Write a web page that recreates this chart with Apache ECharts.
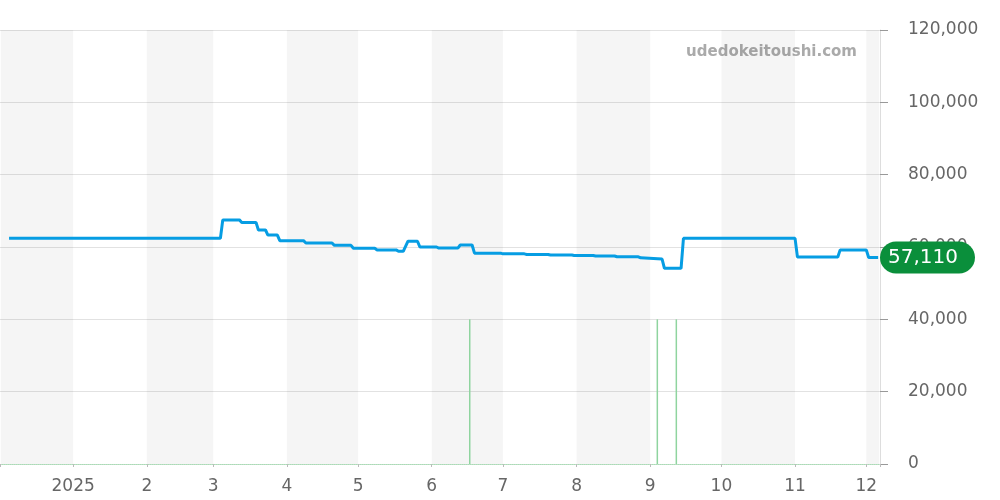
<!DOCTYPE html>
<html>
<head>
<meta charset="utf-8">
<script src="https://cdn.jsdelivr.net/npm/echarts@6/dist/echarts.min.js"></script>
<style>html,body{margin:0;padding:0;background:#fff}#c{width:1000px;height:500px}</style>
</head>
<body>
<div id="c"></div>
<script>
// ---- data ----
var priceDates = [
  '2024-12-05','2025-03-04','2025-03-05','2025-03-12','2025-03-13','2025-03-19','2025-03-20',
  '2025-03-23','2025-03-24','2025-03-28','2025-03-29','2025-04-08','2025-04-09','2025-04-20',
  '2025-04-21','2025-04-28','2025-04-29','2025-05-08','2025-05-09','2025-05-17','2025-05-18',
  '2025-05-20','2025-05-22','2025-05-26','2025-05-27','2025-06-03','2025-06-04','2025-06-12',
  '2025-06-13','2025-06-18','2025-06-19','2025-06-30','2025-07-01','2025-07-10','2025-07-11',
  '2025-07-20','2025-07-21','2025-07-30','2025-07-31','2025-08-08','2025-08-09','2025-08-17',
  '2025-08-18','2025-08-27','2025-08-28','2025-09-06','2025-09-07','2025-09-14','2025-09-15',
  '2025-11-01','2025-11-02','2025-11-19','2025-11-20','2025-12-01','2025-12-02','2025-12-06'
];
var priceValues = [
  62400,62400,67500,67500,66800,66800,64700,
  64700,63300,63300,61750,61750,61100,61100,
  60450,60450,59650,59650,59200,59200,58800,
  58800,61600,61600,60000,60000,59700,59700,
  60550,60550,58300,58300,58100,58100,57950,
  57950,57800,57800,57650,57650,57500,57500,
  57300,57300,57000,56650,54100,54100,62400,
  62400,57250,57250,59200,59200,57110,57110
];
var volumeDates = ['2025-06-17','2025-09-04','2025-09-12'];
var volumeValues = [1, 1, 1];
var lastPrice = 57110;
var axisMinDate = '2024-12-01T12:00:00';
var axisMaxDate = '2025-12-06T11:00:00';
var bandStarts = [axisMinDate,'2025-02-01','2025-04-01','2025-06-01','2025-08-01','2025-10-01','2025-12-01'];
var bandEnds   = ['2025-01-01','2025-03-01','2025-05-01','2025-07-01','2025-09-01','2025-11-01',axisMaxDate];
var yTicks = { min: 0, max: 120000, interval: 20000 };
var watermark = 'udedokeitoushi.com';

// ---- build ----
var P = function (s) { return +echarts.time.parse(s); };
var priceData = priceDates.map(function (d, i) { return [P(d), priceValues[i]]; });
var volumeData = volumeDates.map(function (d, i) { return [P(d), volumeValues[i]]; });
var bands = bandStarts.map(function (s, i) { return [{ xAxis: P(s) }, { xAxis: P(bandEnds[i]) }]; });

var FONT = 'DejaVu Sans';
var chart = echarts.init(document.getElementById('c'), null, { renderer: 'canvas' });
chart.setOption({
  animation: false,
  backgroundColor: '#fff',
  textStyle: { fontFamily: FONT },
  grid: { left: 0, right: 120, top: 30, bottom: 36, containLabel: false, outerBoundsMode: 'none' },
  graphic: [{
    type: 'text', right: 143, top: 45, silent: true,
    style: { text: watermark, fill: '#aaaaaa', font: 'bold 15px "DejaVu Sans"' }
  }],
  xAxis: {
    type: 'time',
    min: P(axisMinDate), max: P(axisMaxDate),
    minInterval: 28 * 86400000, maxInterval: 31 * 86400000,
    splitLine: { show: false },
    splitArea: { show: false },
    axisLine: { show: true, lineStyle: { color: '#a9dcb5', type: 'dotted', width: 1 } },
    axisTick: { show: true, length: 3, lineStyle: { color: '#bbbbbb' } },
    axisLabel: {
      color: '#666', fontSize: 17, fontFamily: FONT, margin: 14,
      showMinLabel: true, showMaxLabel: true, hideOverlap: false,
      formatter: function (v) {
        var d = new Date(v);
        if (d.getDate() !== 1 || d.getHours() !== 0) return '';
        return d.getMonth() === 0 ? String(d.getFullYear()) : String(d.getMonth() + 1);
      }
    }
  },
  yAxis: [{
    type: 'value', position: 'right',
    min: yTicks.min, max: yTicks.max, interval: yTicks.interval,
    axisLine: { show: true, lineStyle: { color: '#dddddd' } },
    axisTick: { show: true, length: 8, lineStyle: { color: '#999999' } },
    splitLine: { show: true, lineStyle: { color: '#e2e2e2', width: 1 } },
    axisLabel: {
      color: '#666', fontSize: 17, fontFamily: FONT, margin: 28,
      padding: [4, 0, 0, 0],
      formatter: function (v) { return v.toLocaleString('en-US'); }
    }
  }, {
    type: 'value', show: false, min: 0, max: 3,
    splitLine: { show: false }
  }],
  series: [{
    type: 'bar', yAxisIndex: 1, data: volumeData, barWidth: 1.5,
    itemStyle: { color: '#8fd49f' }, silent: true, z: 1
  }, {
    type: 'line', data: priceData, showSymbol: false, symbol: 'none',
    lineStyle: { color: '#069de3', width: 3 }, z: 3,
    markArea: {
      silent: true,
      itemStyle: { color: 'rgba(0,0,0,0.04)' },
      data: bands
    },
    markLine: {
      silent: true, symbol: 'none',
      lineStyle: { color: 'transparent', width: 0 },
      label: {
        show: true, position: 'end', distance: 0,
        formatter: function () { return lastPrice.toLocaleString('en-US'); },
        color: '#fff', fontSize: 20, fontFamily: FONT,
        backgroundColor: '#0a8f3b', borderRadius: 17,
        padding: [6, 17, 6, 8]
      },
      data: [{ yAxis: lastPrice }]
    }
  }]
});
</script>
</body>
</html>
